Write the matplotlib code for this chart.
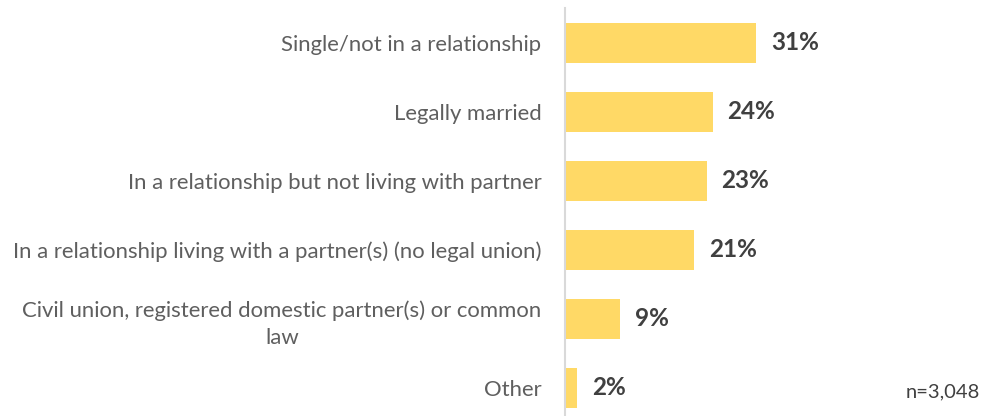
import matplotlib.pyplot as plt

# --- data ---
categories = [
    "Single/not in a relationship",
    "Legally married",
    "In a relationship but not living with partner",
    "In a relationship living with a partner(s) (no legal union)",
    "Civil union, registered domestic partner(s) or common\nlaw",
    "Other",
]
values = [31, 24, 23, 21, 9, 2]
sample_note = "n=3,048"

plt.rcParams['font.family'] = ['Lato', 'DejaVu Sans']

fig = plt.figure(figsize=(9.82, 4.16), dpi=100)
# axes: left edge at the gray axis line, rows spaced so that the last row sits at the bottom
ax = fig.add_axes([565 / 982, -0.0156, 417 / 982, 0.9952])

y = list(range(len(categories)))
ax.barh(y, values, height=0.58, color="#FFD966", zorder=2)

for yi, v in zip(y, values):
    ax.text(v + 2.4, yi, f"{v}%", va="center", ha="left",
            fontsize=17.5, fontweight="bold", color="#404040")

ax.set_xlim(0, 67.7)
ax.set_ylim(len(categories) - 0.5, -0.5)
ax.set_yticks(y)
ax.set_yticklabels(categories, fontsize=15.9, color="#5f5f5f",
                   multialignment="center", linespacing=1.4)
ax.tick_params(axis="y", length=0, pad=17)
ax.set_xticks([])

for side in ["top", "right", "bottom"]:
    ax.spines[side].set_visible(False)
ax.spines["left"].set_color("#D9D9D9")
ax.spines["left"].set_linewidth(1.5)

fig.text(0.998, 0.045, sample_note, ha="right", va="baseline", fontsize=14.5,
         color="#404040")

fig.savefig("out.png", dpi=100)
